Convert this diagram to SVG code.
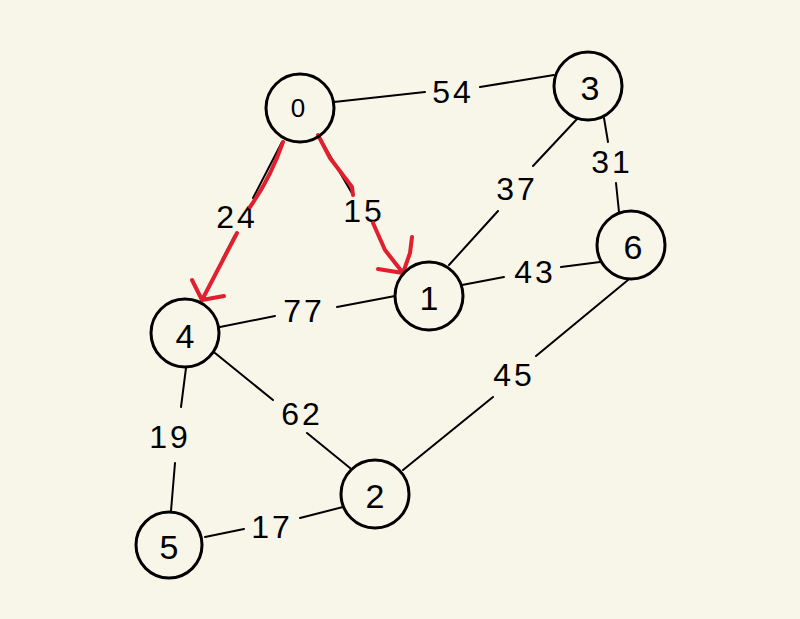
<svg xmlns="http://www.w3.org/2000/svg" width="800" height="619" viewBox="0 0 800 619">
<style>
.bg{fill:#f8f5e9}
.node circle{fill:none;stroke:#000;stroke-width:3}
.node text{font-family:"Liberation Sans",Arial,sans-serif;font-size:34px;fill:#000;text-anchor:middle;dominant-baseline:central}
.edge{stroke:#000;stroke-width:2;fill:none;stroke-linecap:round}
.red{stroke:#e0202e;stroke-width:4;fill:none;stroke-linecap:round;stroke-linejoin:round}
.lbl{font-family:"Liberation Sans",Arial,sans-serif;font-size:32px;fill:#000;text-anchor:middle;dominant-baseline:central;letter-spacing:3px}
</style>
<rect class="bg" x="0" y="0" width="800" height="619"/>
<g id="connectors">
  <path class="edge" d="M334,102 L425,92 M480,87 L554,75"/>
  <text class="lbl" x="453" y="92">54</text>
  <path class="edge" d="M282,142 L253,198 M235,235 L222,260"/>
  <text class="lbl" x="237" y="217">24</text>
  <path class="edge" d="M318,135 L353,195"/>
  <text class="lbl" x="364" y="211">15</text>
  <path class="edge" d="M220,327 L275,316 M337,307 L395,296"/>
  <text class="lbl" x="304" y="311">77</text>
  <path class="edge" d="M449,265 L498,211 M533,166 L577,119"/>
  <text class="lbl" x="517" y="189">37</text>
  <path class="edge" d="M604,118 L608,142 M616,183 L619,212"/>
  <text class="lbl" x="612" y="162">31</text>
  <path class="edge" d="M462,285 L504,277 M561,267 L600,262"/>
  <text class="lbl" x="535" y="272">43</text>
  <path class="edge" d="M628,280 L536,356 M493,397 L403,470"/>
  <text class="lbl" x="514" y="375">45</text>
  <path class="edge" d="M215,353 L273,400 M307,433 L350,468"/>
  <text class="lbl" x="302" y="414">62</text>
  <path class="edge" d="M186,368 L181,407 M175,463 L171,511"/>
  <text class="lbl" x="170" y="437">19</text>
  <path class="edge" d="M205,537 L244,529 M300,518 L343,507"/>
  <text class="lbl" x="272" y="527">17</text>
  <path class="red" d="M283,142 C275,165 262,190 250,207 M237,233 L202,300 M192,280 L202,300 L224,296"/>
  <path class="red" d="M318,135 L330,158 L352,187 L353,195 M373,223 L385,250 L403,273 M378,269 L403,273 M412,237 L410,253 L403,273"/>
</g>
<g id="node0" class="node"><circle cx="300" cy="108" r="34"/><text x="298" y="108" style="font-size:26px">0</text></g>
<g id="node1" class="node"><circle cx="429" cy="296" r="34"/><text x="429" y="298">1</text></g>
<g id="node2" class="node"><circle cx="375" cy="494" r="34"/><text x="375" y="496">2</text></g>
<g id="node3" class="node"><circle cx="588" cy="86" r="34"/><text x="590" y="88">3</text></g>
<g id="node4" class="node"><circle cx="185" cy="333" r="34"/><text x="185" y="336">4</text></g>
<g id="node5" class="node"><circle cx="169" cy="545" r="33"/><text x="169" y="547">5</text></g>
<g id="node6" class="node"><circle cx="631" cy="245" r="34"/><text x="633" y="247">6</text></g>
</svg>
